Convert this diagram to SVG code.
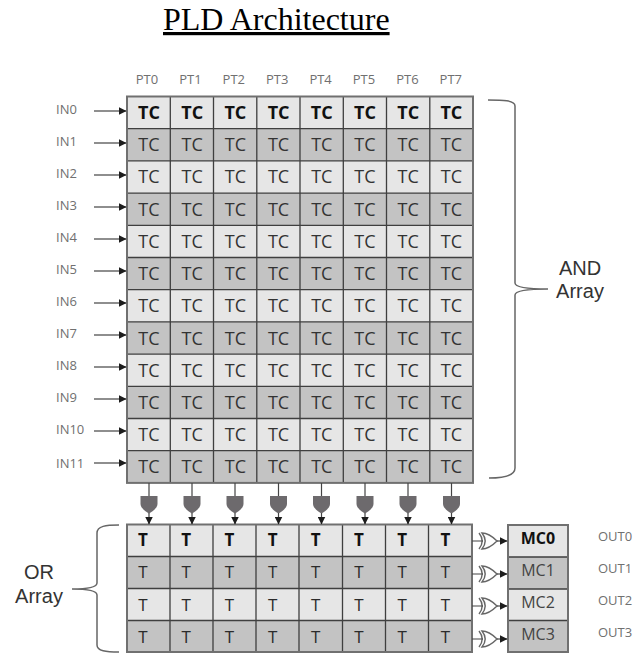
<svg xmlns="http://www.w3.org/2000/svg" width="636" height="653" viewBox="0 0 636 653">
<style>
.title{font:32px "Liberation Serif",serif;fill:#000;text-decoration:underline}
.s{font:13px "Open Sans",sans-serif;fill:#707070}
.tc{font:18px "Open Sans",sans-serif;fill:#333;text-anchor:middle}
.t{font:500 17px "Open Sans",sans-serif;fill:#2b2b2b;text-anchor:middle}
.mc{font:16px "Open Sans",sans-serif;fill:#444;text-anchor:middle}
.lab{font:20px "Liberation Sans",sans-serif;fill:#333;text-anchor:middle}
.b{font-weight:700;fill:#111}
.l{fill:#e6e6e6}
.d{fill:#c3c3c3}
.f{fill:none;stroke:#3f3f3f;stroke-width:1.3}
.fr{fill:none;stroke:#707070;stroke-width:2}
.w{fill:none;stroke:#444;stroke-width:1.2}
.br{fill:none;stroke:#666;stroke-width:1.5}
.g{fill:#6d6a6d}
.o{fill:none;stroke:#666;stroke-width:1.4}
.p{text-anchor:middle}
</style>
<defs>
<marker id="a" markerWidth="8" markerHeight="8" refX="7.500" refY="4" orient="auto" markerUnits="userSpaceOnUse"><path d="M0 0L8 4L0 8z" fill="#1c1c1c"/></marker>
<path id="and" d="M-8.500 0H8.500V8C8.500 12 3 16 0 17.500C-3 16-8.500 12-8.500 8z"/>
<path id="or" d="M-2-8C4-8 10-3 13 0C10 3 4 8-2 8C2 3 2-3-2-8zM-5-8C-1-3-1 3-5 8"/>
</defs>
<text class="title" x="163" y="30">PLD Architecture</text>
<g id="headers">
<text class="s p" x="147" y="84">PT0</text><text class="s p" x="190.400" y="84">PT1</text><text class="s p" x="233.800" y="84">PT2</text><text class="s p" x="277.200" y="84">PT3</text><text class="s p" x="320.600" y="84">PT4</text><text class="s p" x="364" y="84">PT5</text><text class="s p" x="407.400" y="84">PT6</text><text class="s p" x="450.800" y="84">PT7</text>
</g>
<g id="inputs">
<text class="s" x="56" y="113.500">IN0</text><text class="s" x="56" y="145.500">IN1</text><text class="s" x="56" y="177.500">IN2</text><text class="s" x="56" y="209.500">IN3</text><text class="s" x="56" y="241.500">IN4</text><text class="s" x="56" y="273.500">IN5</text><text class="s" x="56" y="305.500">IN6</text><text class="s" x="56" y="337.500">IN7</text><text class="s" x="56" y="369.500">IN8</text><text class="s" x="56" y="401.500">IN9</text><text class="s" x="56" y="433.500">IN10</text><text class="s" x="56" y="467.500">IN11</text>
</g>
<g id="and-array">
<g id="and-row-0"><rect class="l" x="127" y="96.500" width="346" height="32.200"/><text class="tc b" x="149" y="119">TC</text><text class="tc b" x="192.200" y="119">TC</text><text class="tc b" x="235.400" y="119">TC</text><text class="tc b" x="278.600" y="119">TC</text><text class="tc b" x="321.800" y="119">TC</text><text class="tc b" x="365" y="119">TC</text><text class="tc b" x="408.200" y="119">TC</text><text class="tc b" x="451.400" y="119">TC</text></g>
<g id="and-row-1"><rect class="d" x="127" y="128.700" width="346" height="32.200"/><text class="tc" x="149" y="151">TC</text><text class="tc" x="192.200" y="151">TC</text><text class="tc" x="235.400" y="151">TC</text><text class="tc" x="278.600" y="151">TC</text><text class="tc" x="321.800" y="151">TC</text><text class="tc" x="365" y="151">TC</text><text class="tc" x="408.200" y="151">TC</text><text class="tc" x="451.400" y="151">TC</text></g>
<g id="and-row-2"><rect class="l" x="127" y="160.900" width="346" height="32.200"/><text class="tc" x="149" y="183">TC</text><text class="tc" x="192.200" y="183">TC</text><text class="tc" x="235.400" y="183">TC</text><text class="tc" x="278.600" y="183">TC</text><text class="tc" x="321.800" y="183">TC</text><text class="tc" x="365" y="183">TC</text><text class="tc" x="408.200" y="183">TC</text><text class="tc" x="451.400" y="183">TC</text></g>
<g id="and-row-3"><rect class="d" x="127" y="193.100" width="346" height="32.200"/><text class="tc" x="149" y="215.500">TC</text><text class="tc" x="192.200" y="215.500">TC</text><text class="tc" x="235.400" y="215.500">TC</text><text class="tc" x="278.600" y="215.500">TC</text><text class="tc" x="321.800" y="215.500">TC</text><text class="tc" x="365" y="215.500">TC</text><text class="tc" x="408.200" y="215.500">TC</text><text class="tc" x="451.400" y="215.500">TC</text></g>
<g id="and-row-4"><rect class="l" x="127" y="225.300" width="346" height="32.200"/><text class="tc" x="149" y="248">TC</text><text class="tc" x="192.200" y="248">TC</text><text class="tc" x="235.400" y="248">TC</text><text class="tc" x="278.600" y="248">TC</text><text class="tc" x="321.800" y="248">TC</text><text class="tc" x="365" y="248">TC</text><text class="tc" x="408.200" y="248">TC</text><text class="tc" x="451.400" y="248">TC</text></g>
<g id="and-row-5"><rect class="d" x="127" y="257.500" width="346" height="32.200"/><text class="tc" x="149" y="280">TC</text><text class="tc" x="192.200" y="280">TC</text><text class="tc" x="235.400" y="280">TC</text><text class="tc" x="278.600" y="280">TC</text><text class="tc" x="321.800" y="280">TC</text><text class="tc" x="365" y="280">TC</text><text class="tc" x="408.200" y="280">TC</text><text class="tc" x="451.400" y="280">TC</text></g>
<g id="and-row-6"><rect class="l" x="127" y="289.700" width="346" height="32.200"/><text class="tc" x="149" y="312">TC</text><text class="tc" x="192.200" y="312">TC</text><text class="tc" x="235.400" y="312">TC</text><text class="tc" x="278.600" y="312">TC</text><text class="tc" x="321.800" y="312">TC</text><text class="tc" x="365" y="312">TC</text><text class="tc" x="408.200" y="312">TC</text><text class="tc" x="451.400" y="312">TC</text></g>
<g id="and-row-7"><rect class="d" x="127" y="321.900" width="346" height="32.200"/><text class="tc" x="149" y="344.500">TC</text><text class="tc" x="192.200" y="344.500">TC</text><text class="tc" x="235.400" y="344.500">TC</text><text class="tc" x="278.600" y="344.500">TC</text><text class="tc" x="321.800" y="344.500">TC</text><text class="tc" x="365" y="344.500">TC</text><text class="tc" x="408.200" y="344.500">TC</text><text class="tc" x="451.400" y="344.500">TC</text></g>
<g id="and-row-8"><rect class="l" x="127" y="354.100" width="346" height="32.200"/><text class="tc" x="149" y="376.500">TC</text><text class="tc" x="192.200" y="376.500">TC</text><text class="tc" x="235.400" y="376.500">TC</text><text class="tc" x="278.600" y="376.500">TC</text><text class="tc" x="321.800" y="376.500">TC</text><text class="tc" x="365" y="376.500">TC</text><text class="tc" x="408.200" y="376.500">TC</text><text class="tc" x="451.400" y="376.500">TC</text></g>
<g id="and-row-9"><rect class="d" x="127" y="386.300" width="346" height="32.200"/><text class="tc" x="149" y="408.500">TC</text><text class="tc" x="192.200" y="408.500">TC</text><text class="tc" x="235.400" y="408.500">TC</text><text class="tc" x="278.600" y="408.500">TC</text><text class="tc" x="321.800" y="408.500">TC</text><text class="tc" x="365" y="408.500">TC</text><text class="tc" x="408.200" y="408.500">TC</text><text class="tc" x="451.400" y="408.500">TC</text></g>
<g id="and-row-10"><rect class="l" x="127" y="418.500" width="346" height="32.200"/><text class="tc" x="149" y="441">TC</text><text class="tc" x="192.200" y="441">TC</text><text class="tc" x="235.400" y="441">TC</text><text class="tc" x="278.600" y="441">TC</text><text class="tc" x="321.800" y="441">TC</text><text class="tc" x="365" y="441">TC</text><text class="tc" x="408.200" y="441">TC</text><text class="tc" x="451.400" y="441">TC</text></g>
<g id="and-row-11"><rect class="d" x="127" y="450.700" width="346" height="32.200"/><text class="tc" x="149" y="473">TC</text><text class="tc" x="192.200" y="473">TC</text><text class="tc" x="235.400" y="473">TC</text><text class="tc" x="278.600" y="473">TC</text><text class="tc" x="321.800" y="473">TC</text><text class="tc" x="365" y="473">TC</text><text class="tc" x="408.200" y="473">TC</text><text class="tc" x="451.400" y="473">TC</text></g>
<path class="f" d="M170.300 96.500V483M213.500 96.500V483M256.800 96.500V483M300 96.500V483M343.300 96.500V483M386.500 96.500V483M429.800 96.500V483M127 128.700H473M127 160.900H473M127 193.100H473M127 225.300H473M127 257.500H473M127 289.700H473M127 321.900H473M127 354.100H473M127 386.300H473M127 418.500H473M127 450.700H473"/>
<rect class="fr" x="127" y="96.500" width="346" height="386.400"/>
</g>
<g id="or-array">
<g id="or-row-0"><rect class="l" x="127" y="524.500" width="345" height="32"/><text class="t b" x="143" y="546">T</text><text class="t b" x="186.200" y="546">T</text><text class="t b" x="229.400" y="546">T</text><text class="t b" x="272.600" y="546">T</text><text class="t b" x="315.800" y="546">T</text><text class="t b" x="359" y="546">T</text><text class="t b" x="402.200" y="546">T</text><text class="t b" x="445.400" y="546">T</text></g>
<g id="or-row-1"><rect class="d" x="127" y="556.500" width="345" height="32"/><text class="t" x="143" y="578">T</text><text class="t" x="186.200" y="578">T</text><text class="t" x="229.400" y="578">T</text><text class="t" x="272.600" y="578">T</text><text class="t" x="315.800" y="578">T</text><text class="t" x="359" y="578">T</text><text class="t" x="402.200" y="578">T</text><text class="t" x="445.400" y="578">T</text></g>
<g id="or-row-2"><rect class="l" x="127" y="588.500" width="345" height="32"/><text class="t" x="143" y="611">T</text><text class="t" x="186.200" y="611">T</text><text class="t" x="229.400" y="611">T</text><text class="t" x="272.600" y="611">T</text><text class="t" x="315.800" y="611">T</text><text class="t" x="359" y="611">T</text><text class="t" x="402.200" y="611">T</text><text class="t" x="445.400" y="611">T</text></g>
<g id="or-row-3"><rect class="d" x="127" y="620.500" width="345" height="31.500"/><text class="t" x="143" y="642.500">T</text><text class="t" x="186.200" y="642.500">T</text><text class="t" x="229.400" y="642.500">T</text><text class="t" x="272.600" y="642.500">T</text><text class="t" x="315.800" y="642.500">T</text><text class="t" x="359" y="642.500">T</text><text class="t" x="402.200" y="642.500">T</text><text class="t" x="445.400" y="642.500">T</text></g>
<path class="f" d="M170 524.500V652M213 524.500V652M256 524.500V652M299 524.500V652M342.500 524.500V652M385.500 524.500V652M428.500 524.500V652M127 556.500H472M127 588.500H472M127 620.500H472"/>
<rect class="fr" x="127" y="524.500" width="345" height="127.500"/>
</g>
<g id="macrocells">
<g id="mc0"><rect class="l" x="508" y="525" width="60" height="32"/><text class="mc b" x="538" y="544">MC0</text></g>
<g id="mc1"><rect class="d" x="508" y="557" width="60" height="32"/><text class="mc" x="538" y="575.500">MC1</text></g>
<g id="mc2"><rect class="l" x="508" y="589" width="60" height="31.500"/><text class="mc" x="538" y="608">MC2</text></g>
<g id="mc3"><rect class="d" x="508" y="620.500" width="60" height="31.500"/><text class="mc" x="538" y="640">MC3</text></g>
<path class="f" d="M508 557H568M508 589H568M508 620.500H568"/>
<rect class="fr" x="508" y="525" width="60" height="127"/>
</g>
<g id="outputs">
<text class="s" x="598" y="540.500">OUT0</text><text class="s" x="598" y="572.500">OUT1</text><text class="s" x="598" y="604.500">OUT2</text><text class="s" x="598" y="636.500">OUT3</text>
</g>
<g id="and-gates" class="g">
<use href="#and" x="149" y="496"/><use href="#and" x="192" y="496"/><use href="#and" x="235" y="496"/><use href="#and" x="278.500" y="496"/><use href="#and" x="321.500" y="496"/><use href="#and" x="365" y="496"/><use href="#and" x="408" y="496"/><use href="#and" x="451.500" y="496"/>
</g>
<g id="or-gates" class="o">
<use href="#or" x="484" y="541"/><use href="#or" x="484" y="574"/><use href="#or" x="484" y="606"/><use href="#or" x="484" y="639"/>
</g>
<g id="connectors" class="w">
<path marker-end="url(#a)" d="M94 111H126"/><path marker-end="url(#a)" d="M94 143H126"/><path marker-end="url(#a)" d="M94 175H126"/><path marker-end="url(#a)" d="M94 207H126"/><path marker-end="url(#a)" d="M94 239H126"/><path marker-end="url(#a)" d="M94 271H126"/><path marker-end="url(#a)" d="M94 303H126"/><path marker-end="url(#a)" d="M94 335H126"/><path marker-end="url(#a)" d="M94 367H126"/><path marker-end="url(#a)" d="M94 399H126"/><path marker-end="url(#a)" d="M94 431H126"/><path marker-end="url(#a)" d="M94 463H126"/>
<path d="M149 483V496M192 483V496M235 483V496M278.500 483V496M321.500 483V496M365 483V496M408 483V496M451.500 483V496"/>
<path marker-end="url(#a)" d="M149 513V524"/><path marker-end="url(#a)" d="M192 513V524"/><path marker-end="url(#a)" d="M235 513V524"/><path marker-end="url(#a)" d="M278.500 513V524"/><path marker-end="url(#a)" d="M321.500 513V524"/><path marker-end="url(#a)" d="M365 513V524"/><path marker-end="url(#a)" d="M408 513V524"/><path marker-end="url(#a)" d="M451.500 513V524"/>
<path d="M472 541H483M472 574H483M472 606H483M472 639H483"/>
<path marker-end="url(#a)" d="M497 541H507"/><path marker-end="url(#a)" d="M497 574H507"/><path marker-end="url(#a)" d="M497 606H507"/><path marker-end="url(#a)" d="M497 639H507"/>
</g>
<g id="braces" class="br">
<path d="M488 100C502 100 515 100 515 106V283C515 288 530 289 548 289C530 289 515 290 515 295V468C515 476 502 478 489 478"/>
<path d="M119 525C106 525 97 526 97 533V583C97 588 85 589 72 589C85 589 97 590 97 595V645C97 651 106 652 119 652"/>
</g>
<text class="lab" x="580" y="275">AND</text><text class="lab" x="580" y="298">Array</text>
<text class="lab" x="39" y="579">OR</text><text class="lab" x="39" y="603">Array</text>
</svg>
